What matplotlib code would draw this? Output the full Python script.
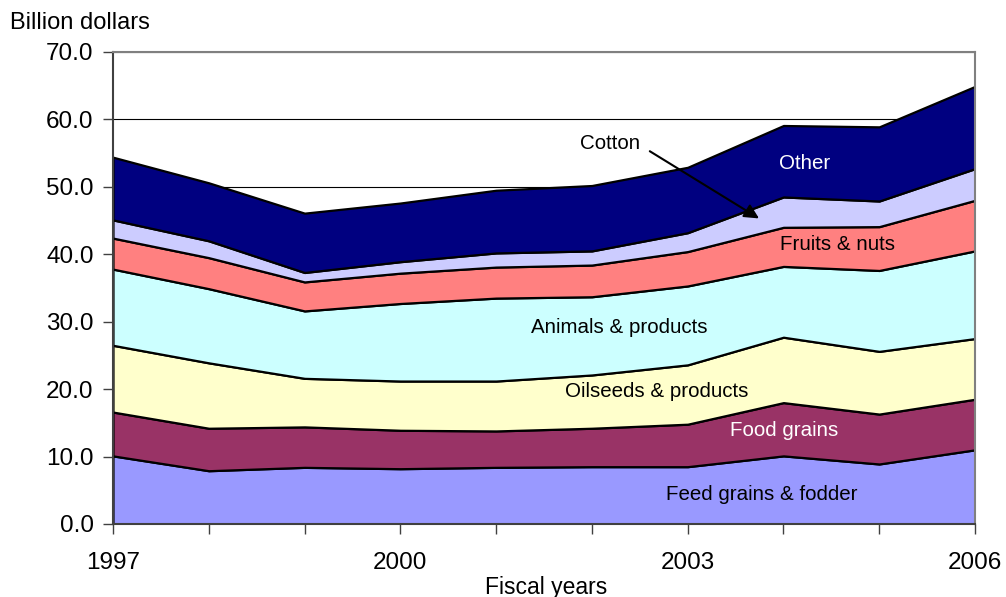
import matplotlib.pyplot as plt
import numpy as np

plt.rcParams['font.family'] = ['Liberation Sans', 'DejaVu Sans']

years = np.arange(1997, 2007)
feed_grains = [10.1, 7.9, 8.4, 8.2, 8.4, 8.5, 8.5, 10.1, 8.9, 11.0]
food_grains = [6.5, 6.3, 6.0, 5.7, 5.4, 5.7, 6.3, 7.9, 7.4, 7.5]
oilseeds = [9.9, 9.7, 7.2, 7.3, 7.4, 7.9, 8.8, 9.7, 9.3, 9.0]
animals = [11.3, 11.0, 10.0, 11.5, 12.3, 11.6, 11.7, 10.5, 12.0, 13.0]
fruits = [4.6, 4.6, 4.3, 4.5, 4.6, 4.7, 5.1, 5.8, 6.5, 7.5]
cotton = [2.7, 2.5, 1.4, 1.7, 2.1, 2.1, 2.8, 4.5, 3.8, 4.7]
other = [9.3, 8.6, 8.8, 8.7, 9.3, 9.7, 9.7, 10.6, 11.0, 12.2]

series = [feed_grains, food_grains, oilseeds, animals, fruits, cotton, other]
colors = ['#9999FF', '#993366', '#FFFFCC', '#CCFFFF', '#FF8080', '#CCCCFF', '#000080']

fig = plt.figure(figsize=(10.06, 5.97), dpi=100)
ax = fig.add_axes([0.1123, 0.1223, 0.8569, 0.7906])

ax.set_axisbelow(True)
ax.yaxis.grid(True, color='#000000', linewidth=0.8)
ax.stackplot(years, *series, colors=colors, edgecolor='black', linewidth=1.6, zorder=2)

ax.set_xlim(1997, 2006)
ax.set_ylim(0, 70)
ax.set_yticks(np.arange(0, 71, 10))
ax.set_yticklabels([f'{v:.1f}' for v in np.arange(0, 71, 10)])
ax.set_xticks(years)
ax.set_xticklabels([str(y) if (y - 1997) % 3 == 0 else '' for y in years])
ax.tick_params(direction='out', length=7, width=1, labelsize=17.5, color='#404040')
ax.tick_params(axis='x', pad=13)
ax.tick_params(axis='y', pad=7)

for side in ['top', 'right']:
    ax.spines[side].set_color('#808080')
    ax.spines[side].set_linewidth(1.5)
for side in ['left', 'bottom']:
    ax.spines[side].set_color('#404040')
    ax.spines[side].set_linewidth(1.5)

fig.text(0.5427, 0.016, 'Fiscal years', fontsize=16.5, ha='center', va='center')
fig.text(0.01, 0.962, 'Billion dollars', fontsize=17, ha='left', va='center')

fs = 14.8
ax.text(2002.19, 56.5, 'Cotton', fontsize=fs, ha='center', va='center', zorder=5)
ax.annotate('', xy=(2003.77, 45.1), xytext=(2002.58, 55.5),
            arrowprops=dict(arrowstyle='-|>', color='black', lw=1.5, mutation_scale=22), zorder=5)
ax.text(2004.22, 53.5, 'Other', fontsize=fs, ha='center', va='center', color='white', zorder=5)
ax.text(2004.56, 41.5, 'Fruits & nuts', fontsize=fs, ha='center', va='center', zorder=5)
ax.text(2002.29, 29.2, 'Animals & products', fontsize=fs, ha='center', va='center', zorder=5)
ax.text(2002.68, 19.6, 'Oilseeds & products', fontsize=fs, ha='center', va='center', zorder=5)
ax.text(2004.01, 13.8, 'Food grains', fontsize=fs, ha='center', va='center', color='white', zorder=5)
ax.text(2003.77, 4.4, 'Feed grains & fodder', fontsize=fs, ha='center', va='center', zorder=5)

fig.savefig('out.png', dpi=100)
